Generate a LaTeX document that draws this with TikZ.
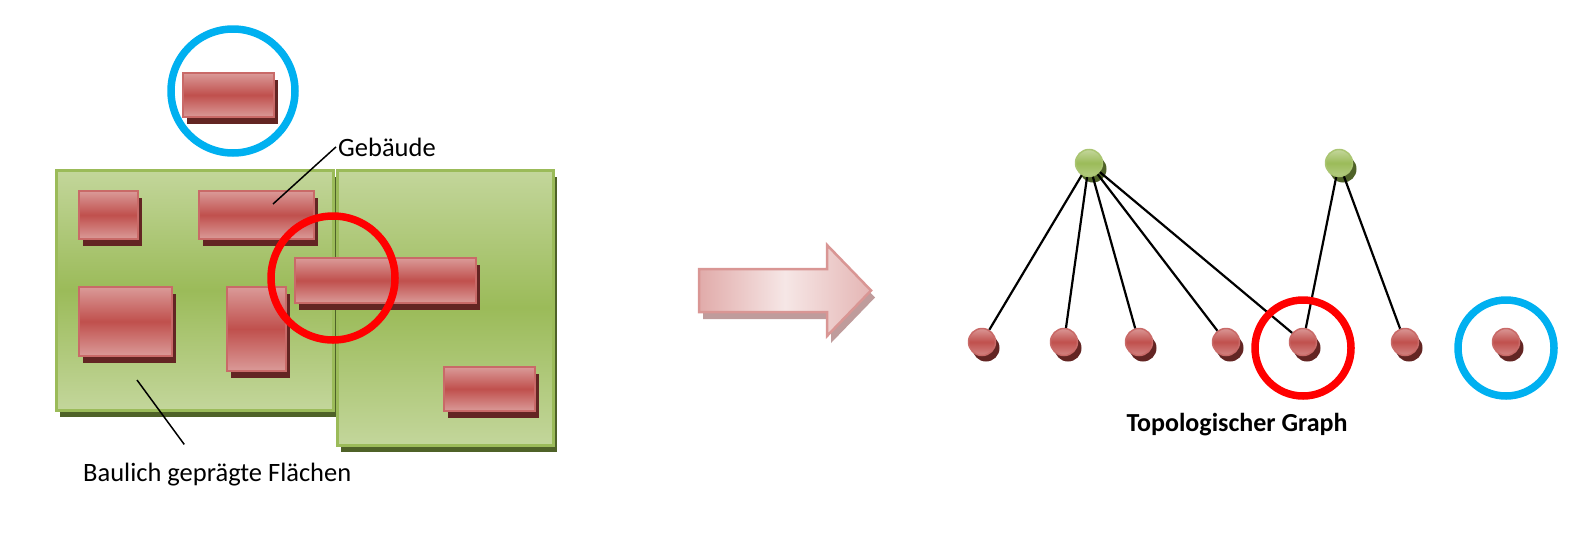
\documentclass[tikz,border=0pt]{standalone}
\usepackage{fontspec}
\setmainfont{Carlito}
\usepackage{xcolor}
\usetikzlibrary{shadows,calc}

\definecolor{bldgRed}{HTML}{C0504D}
\definecolor{bldgLight}{HTML}{DA9A98}
\definecolor{bldgShadow}{HTML}{632523}
\definecolor{areaGreen}{HTML}{9BBB59}
\definecolor{areaLight}{HTML}{C3D69B}
\definecolor{areaShadow}{HTML}{4F6228}
\definecolor{ringBlue}{HTML}{00B0F0}
\definecolor{ringRed}{HTML}{FF0000}
\definecolor{arrowPink}{HTML}{F2DCDB}
\definecolor{arrowEdge}{HTML}{D99694}
\definecolor{arrowShadow}{HTML}{BF9C9C}

\begin{document}
\begin{tikzpicture}[x=1pt, y=-1pt,
    area/.style={draw=areaGreen, line width=3pt, top color=areaLight, bottom color=areaLight, middle color=areaGreen,
        general shadow={fill=areaShadow, shadow xshift=4pt, shadow yshift=-7pt}},
    bldg/.style={draw=bldgRed!85!white, line width=2pt, top color=bldgLight, bottom color=bldgLight, middle color=bldgRed,
        general shadow={fill=bldgShadow, shadow xshift=4pt, shadow yshift=-7pt}},
    ring/.style={line width=7.5pt},
    lead/.style={line width=1.5pt, black},
    label/.style={inner sep=2pt, font=\fontsize{26.5}{31}\selectfont},
    redDot/.style={circle, inner sep=0pt, minimum size=27pt, draw=bldgRed!85!white, line width=1.5pt,
        top color=bldgRed!60!white, bottom color=bldgRed!70!white, middle color=bldgRed,
        general shadow={fill=bldgShadow, shadow xshift=4pt, shadow yshift=-6pt}},
    greenDot/.style={circle, inner sep=0pt, minimum size=27pt, draw=areaGreen!85!white, line width=1.5pt,
        top color=areaGreen!60!white, bottom color=areaGreen!75!white, middle color=areaGreen,
        general shadow={fill=areaShadow, shadow xshift=4pt, shadow yshift=-6pt}},
    link/.style={line width=2.2pt, black},
    bigArrow/.style={draw=arrowEdge, line width=2.5pt, left color=arrowEdge!80!white, right color=arrowEdge!70!white,
        middle color=arrowPink!70!white, general shadow={fill=arrowShadow, shadow xshift=4pt, shadow yshift=-7pt}}]
    \useasboundingbox (0,0) rectangle (1594,533);

    % Areas
    \draw[area] (56,170) rectangle (333,410);
    \draw[area] (337,170) rectangle (553,445);

    % Buildings
    \draw[bldg] (183,73) rectangle (274,117);
    \draw[bldg] (79,191) rectangle (138,239);
    \draw[bldg] (199,191) rectangle (314,239);
    \draw[bldg] (79,287) rectangle (172,356);
    \draw[bldg] (227,287) rectangle (286,371);
    \draw[bldg] (295,258) rectangle (476,303);
    \draw[bldg] (444,367) rectangle (535,411);

    % Marks
    \draw[ring, ringBlue] (233,91) circle[radius=62];
    \draw[ring, ringRed] (333,278) circle[radius=62];

    % Labels
    \node[label, anchor=base west] (gebLabel) at (336,156) {Gebäude};
    \coordinate (gebTip) at (273,204);
    \draw[lead] (gebTip) -- (gebLabel.west);
    \node[label, anchor=base west] (flLabel) at (81,481) {Baulich geprägte Flächen};
    \coordinate (flTip) at (137,380);
    \draw[lead] (flTip) -- ([xshift=-33pt, yshift=16pt]flLabel.north);

    % Arrow
    \draw[bigArrow] (699,269) -- (827,269) -- (827,245) -- (871,290.5) -- (827,336) -- (827,312) -- (699,312) -- cycle;

    % Graph
    \node[greenDot] (hub1) at (1089,163) {};
    \node[greenDot] (hub2) at (1339,163) {};
    \foreach \x [count=\i] in {982,1064,1139,1226,1303,1405,1506}
        \node[redDot] (leaf\i) at (\x,342) {};
    \foreach \i in {1,...,5}
        \draw[link] (hub1) -- (leaf\i);
    \draw[link] (hub2) -- (leaf5);
    \draw[link] (hub2) -- (leaf6);
    \draw[ring, ringRed] ([yshift=-6pt]leaf5.center) circle[radius=48];
    \draw[ring, ringBlue] ([yshift=-6pt]leaf7.center) circle[radius=48];
    \node[label, font=\fontsize{26}{31}\selectfont\bfseries, anchor=base] (graphLabel) at (1237,431) {Topologischer Graph};
\end{tikzpicture}
\end{document}
